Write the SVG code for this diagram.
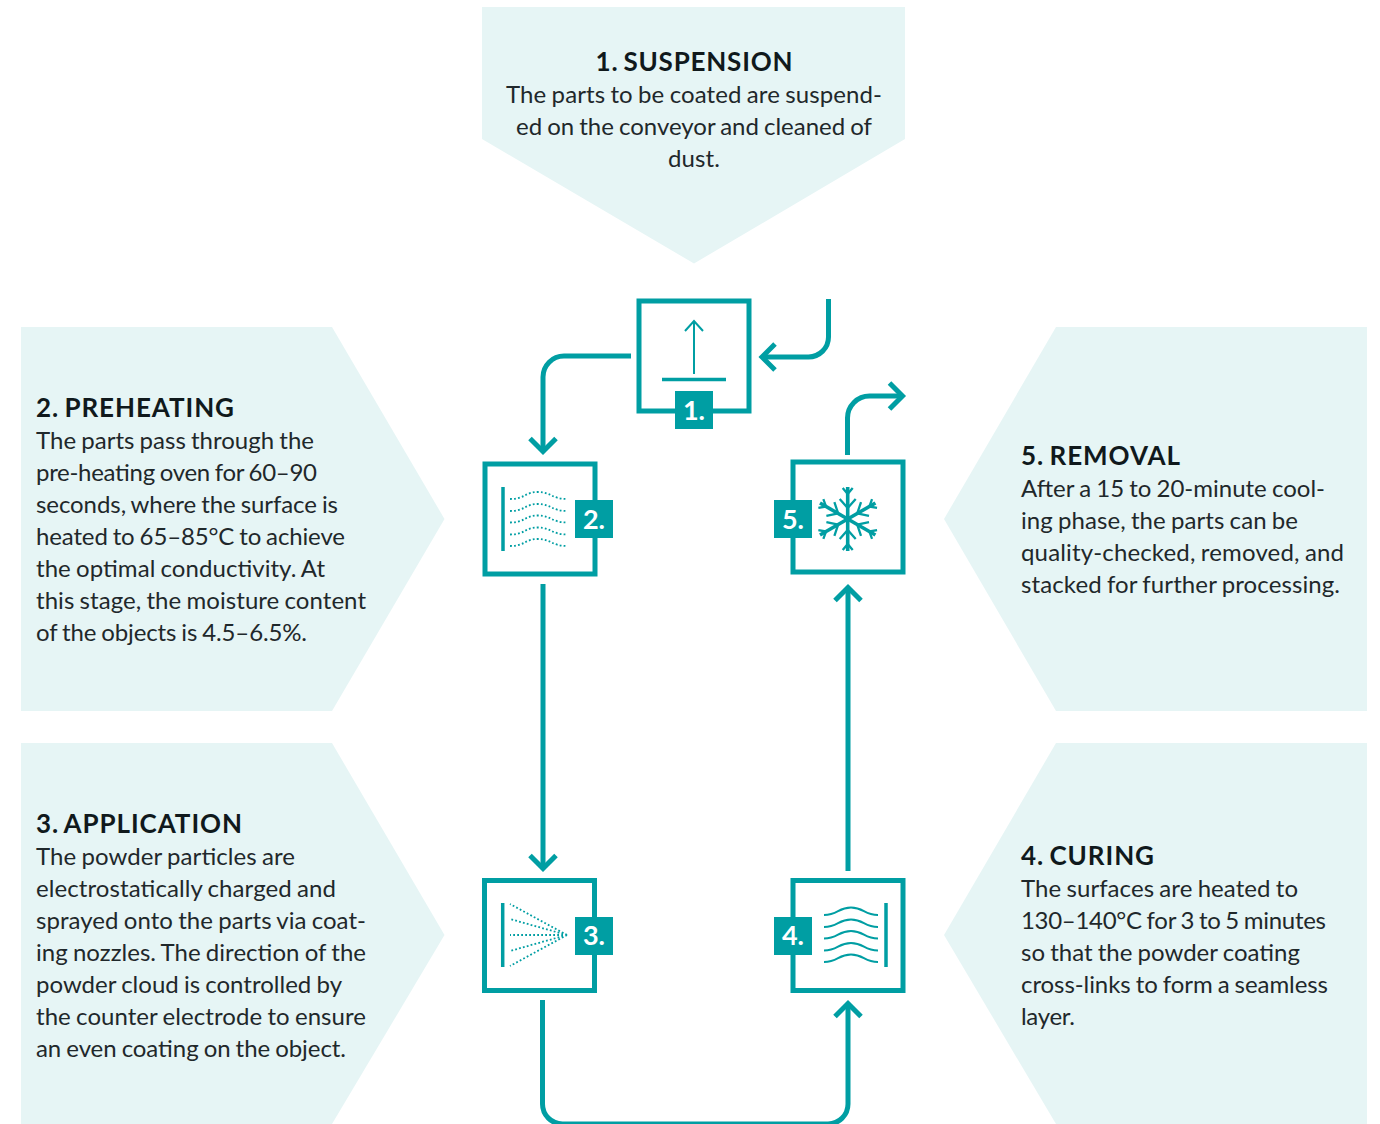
<svg xmlns="http://www.w3.org/2000/svg" xmlns:xlink="http://www.w3.org/1999/xlink" width="1380" height="1124" viewBox="0 0 1380 1124">
<style>
.panel{fill:#e6f5f5}
.h{font:700 26px Lato,"Noto Sans",sans-serif;fill:#10191c;word-spacing:-2px}
.b{font:400 24px Lato,"Noto Sans",sans-serif;fill:#1f282b;word-spacing:-1px}
.c{text-anchor:middle}
.box{fill:#fff;stroke:#009ea3;stroke-width:5}
.badge{fill:#009ea3}
.bt{font:700 27px Lato,"Noto Sans",sans-serif;fill:#fff;text-anchor:middle}
.conn{fill:none;stroke:#009ea3;stroke-width:5;marker-end:url(#chev)}
.i{fill:none;stroke:#009ea3}
.bar{stroke-width:3.5}
.dot{stroke-width:1.8;stroke-dasharray:1.8 2.2}
.wave{stroke-width:2}
</style>
<defs>
<marker id="chev" markerUnits="userSpaceOnUse" markerWidth="34" markerHeight="34" refX="20" refY="17" orient="auto">
<path d="M7 4 L20 17 L7 30" fill="none" stroke="#009ea3" stroke-width="5"/>
</marker>
<g id="arm"><path d="M0 0V-32" fill="none" stroke="#009ea3" stroke-width="3.6"/><path d="M-5 -31L0 -25L5 -31M-8 -20L0 -11L8 -20" fill="none" stroke="#009ea3" stroke-width="2.3"/></g>
</defs>
<g id="connectors">
<path class="conn" d="M828.5 299V337a20 20 0 0 1 -20 20H762"/>
<path class="conn" d="M631 356H564a21 21 0 0 0 -21 21V451.500"/>
<path class="conn" d="M543 584V868.500"/>
<path class="conn" d="M542.500 1000V1104a20 20 0 0 0 20 20H828a20 20 0 0 0 20 -20V1003.500"/>
<path class="conn" d="M848 871V587.500"/>
<path class="conn" d="M847.500 455V418a22 22 0 0 1 22 -22H902.500"/>
</g>
<g id="node1">
<polygon class="panel" points="482,7 905,7 905,139 694,263.500 482,139"/>
<text class="h c" x="694" y="71" textLength="197">1. SUSPENSION</text>
<text class="b c" x="694" y="103" textLength="376">The parts to be coated are suspend-</text>
<text class="b c" x="694" y="135" textLength="356">ed on the conveyor and cleaned of</text>
<text class="b c" x="694" y="167" textLength="52">dust.</text>
<rect class="box" x="639" y="301" width="110" height="110"/>
<path class="i" stroke-width="2" d="M694 374V321M685 331L694 321L703 331"/>
<path class="i" stroke-width="3.5" d="M662 379.500H726"/>
<rect class="badge" x="675" y="391" width="38" height="38"/>
<text class="bt" x="694" y="420">1.</text>
</g>
<g id="node2">
<polygon class="panel" points="21,327 332,327 444.500,519 332,711 21,711"/>
<text class="h" x="36" y="417" textLength="198">2. PREHEATING</text>
<text class="b" x="36" y="449" textLength="278">The parts pass through the</text>
<text class="b" x="36" y="481" textLength="281">pre-heating oven for 60–90</text>
<text class="b" x="36" y="513" textLength="302">seconds, where the surface is</text>
<text class="b" x="36" y="545" textLength="309">heated to 65–85°C to achieve</text>
<text class="b" x="36" y="577" textLength="289">the optimal conductivity. At</text>
<text class="b" x="36" y="609" textLength="330">this stage, the moisture content</text>
<text class="b" x="36" y="641" textLength="271">of the objects is 4.5–6.5%.</text>
<rect class="box" x="485" y="464" width="110" height="110"/>
<path class="i bar" d="M503 487V551"/>
<path class="i dot" d="M510 499C525 499 525 492 538 492S552 499 567 499M510 511C525 511 525 504 538 504S552 511 567 511M510 522.500C525 522.500 525 515.500 538 515.500S552 522.500 567 522.500M510 534.500C525 534.500 525 527.500 538 527.500S552 534.500 567 534.500M510 546C525 546 525 539 538 539S552 546 567 546"/>
<rect class="badge" x="575" y="500" width="38" height="38"/>
<text class="bt" x="594" y="529">2.</text>
</g>
<g id="node3">
<polygon class="panel" points="21,743 332,743 444.500,935 332,1124 21,1124"/>
<text class="h" x="36" y="833" textLength="206">3. APPLICATION</text>
<text class="b" x="36" y="865" textLength="259">The powder particles are</text>
<text class="b" x="36" y="897" textLength="300">electrostatically charged and</text>
<text class="b" x="36" y="929" textLength="330">sprayed onto the parts via coat-</text>
<text class="b" x="36" y="961" textLength="330">ing nozzles. The direction of the</text>
<text class="b" x="36" y="993" textLength="306">powder cloud is controlled by</text>
<text class="b" x="36" y="1025" textLength="330">the counter electrode to ensure</text>
<text class="b" x="36" y="1057" textLength="310">an even coating on the object.</text>
<rect class="box" x="484.500" y="880.500" width="110" height="110"/>
<path class="i bar" d="M502.700 903V967"/>
<path class="i dot" d="M567 935L510 904M567 935L510 919M567 935H510M567 935L510 951M567 935L510 966"/>
<rect class="badge" x="575" y="917" width="38" height="38"/>
<text class="bt" x="594" y="945">3.</text>
</g>
<g id="node4">
<polygon class="panel" points="1367,743 1056,743 944,935 1056,1124 1367,1124"/>
<text class="h" x="1021" y="865" textLength="133">4. CURING</text>
<text class="b" x="1021" y="897" textLength="277">The surfaces are heated to</text>
<text class="b" x="1021" y="929" textLength="305">130–140°C for 3 to 5 minutes</text>
<text class="b" x="1021" y="961" textLength="279">so that the powder coating</text>
<text class="b" x="1021" y="993" textLength="307">cross-links to form a seamless</text>
<text class="b" x="1021" y="1025" textLength="54">layer.</text>
<rect class="box" x="793" y="880.500" width="110" height="110"/>
<path class="i bar" d="M886 903V967"/>
<path class="i wave" d="M824 915C838 915 838 907.500 851 907.500S864 915 878 915M824 927C838 927 838 919.500 851 919.500S864 927 878 927M824 938.500C838 938.500 838 931 851 931S864 938.500 878 938.500M824 950.500C838 950.500 838 943 851 943S864 950.500 878 950.500M824 962C838 962 838 954.500 851 954.500S864 962 878 962"/>
<rect class="badge" x="774" y="917" width="38" height="38"/>
<text class="bt" x="793" y="945">4.</text>
</g>
<g id="node5">
<polygon class="panel" points="1367,327 1056,327 944,519 1056,711 1367,711"/>
<text class="h" x="1021" y="465" textLength="159">5. REMOVAL</text>
<text class="b" x="1021" y="497" textLength="304">After a 15 to 20-minute cool-</text>
<text class="b" x="1021" y="529" textLength="277">ing phase, the parts can be</text>
<text class="b" x="1021" y="561" textLength="323">quality-checked, removed, and</text>
<text class="b" x="1021" y="593" textLength="319">stacked for further processing.</text>
<rect class="box" x="793" y="462" width="110" height="110"/>
<g transform="translate(847.700 519)">
<use xlink:href="#arm"/>
<use xlink:href="#arm" transform="rotate(60)"/>
<use xlink:href="#arm" transform="rotate(120)"/>
<use xlink:href="#arm" transform="rotate(180)"/>
<use xlink:href="#arm" transform="rotate(240)"/>
<use xlink:href="#arm" transform="rotate(300)"/>
</g>
<rect class="badge" x="774" y="500" width="38" height="38"/>
<text class="bt" x="793" y="529">5.</text>
</g>
</svg>
